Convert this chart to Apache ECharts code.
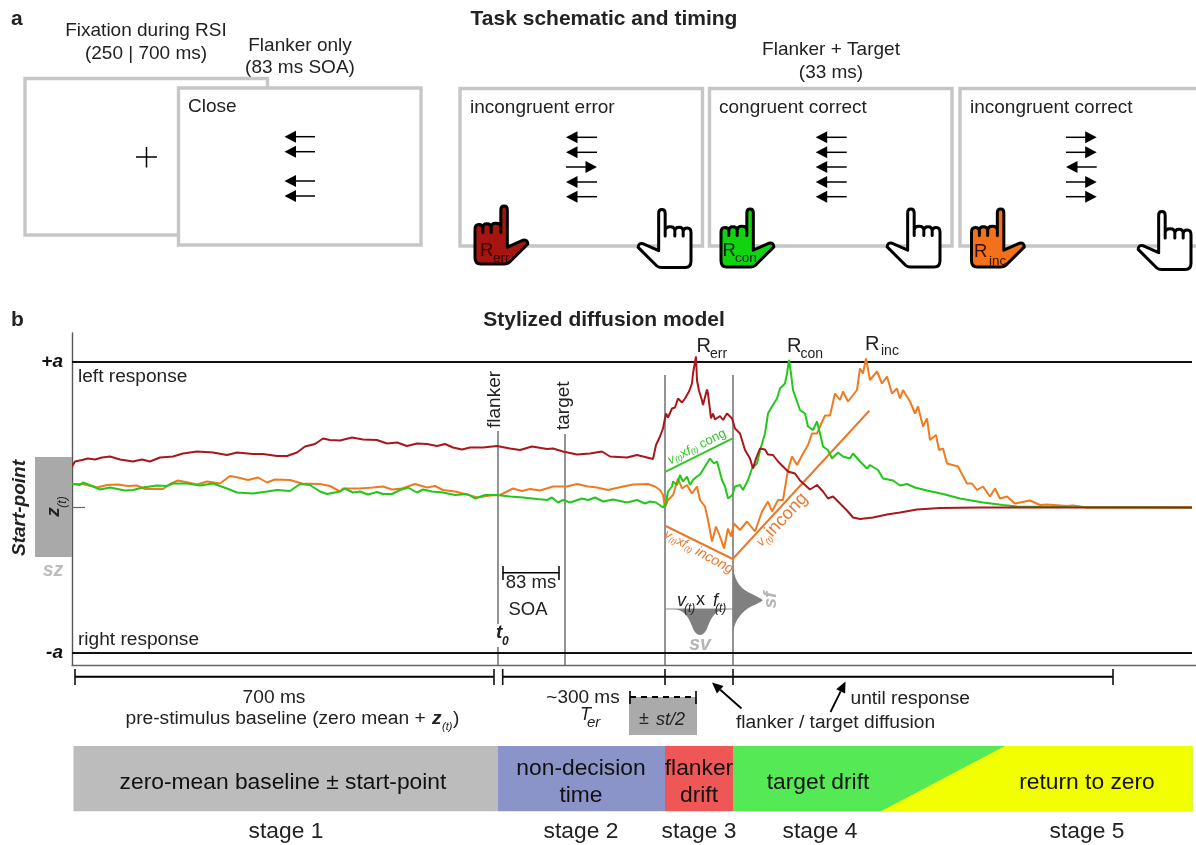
<!DOCTYPE html>
<html><head><meta charset="utf-8">
<style>html,body{margin:0;padding:0;background:#fff}#c{width:1196px;height:845px}</style>
<script src="https://cdn.jsdelivr.net/npm/echarts@6/dist/echarts.min.js"></script>
</head><body><div id="c"></div>
<script>
// ---- values (x = time position along the axis, v = evidence; a = threshold)
const thresholdA = 145.5;
const redT = [72,75,82,88,95,102,110,120,133,142,150,160,173,183,197,213,227,237,253,263,277,287,297,305,315,323,330,340,352,363,377,387,397,407,417,427,437,445,453,462,470,483,497,510,520,532,547,553,563,577,590,602,610,627,637,653,656,660,663,666,668,672,675,678,682,685,689,692,693,696,697,699,702,703,707,708,711,713,715,720,723,727,732,735,740,745,750,753,756,760,765,768,773,778,783,788,795,800,805,810,817,823,828,833,840,847,853,860,873,887,900,917,940,980,1040,1100,1192];
const redV = [41,46,47.5,49,48,50,51,48,46,48,46,50,51,54,56,55,52.5,55,53.5,53.5,51.5,51.5,55,61,63.5,69,67.5,67,70,68,67.5,64,65,61.5,64,63.5,61.5,63.5,60,58,60,60,61.5,59,57.5,61,58.5,59,56,53,54,56,51,50,52.5,48.5,62.5,71,79,94,90,99,100,109,105,109,116,124,134,151,127,117,107,102.5,118,114,89,94,88,91.5,87.5,94,89,79,74,57.5,49,39,49,59,58,53,52.5,46,41,36,34,27,22.5,18,22.5,16,9,11,4,-3,-10,-11.5,-10,-7,-5,-2,-0.5,0,0,0,0];
const greenT = [72,80,83,92,100,110,125,133,143,157,167,173,187,200,213,227,237,253,267,277,290,300,310,320,327,340,345,353,360,368,377,383,392,400,408,417,423,432,443,455,467,475,485,497,510,523,537,547,552,558,563,570,582,588,595,603,613,627,637,645,650,656,663,666,668,672,673,677,680,683,687,690,693,697,700,705,710,714,717,722,725,728,732,735,740,743,748,752,757,760,765,768,772,777,780,785,787,789,791,793,797,800,805,808,813,817,820,823,828,832,838,843,850,853,860,867,870,878,883,893,900,907,909,915,927,943,960,983,1003,1017,1067,1192];
const greenV = [23.5,22.5,25,21.5,18,20,17,17.5,20,22,21.5,24,24,22,24,19,15,14,16,17.5,16.5,23.5,22.5,16,13.5,16,19,15,16,13,15.5,13.5,13.5,17.5,20,15,18,16,15,12.5,13.5,9,12.5,12.5,11,10,8.5,7.5,10,5,7.5,5,9,7.5,10,6,8,5,7.5,4,6,5,0,4,16,21,26,22.5,32.5,26,31,22.5,27.5,31,33,41,49,44,46,27.5,21,9,12,21,22.5,17.5,27.5,39,44,57,74,94,101,109,119,124,134,147.5,134,117.5,106,97.5,94,81,77.5,86,74,61,57.5,49,55,51,49,54,46,39,42.5,37.5,29,27,22,23.5,25.5,20,17,13.5,9,5,2.5,1,0.5,0];
const orangeT = [72,83,97,107,118,128,137,145,163,170,178,188,197,207,220,230,238,248,258,267,275,290,302,320,330,340,343,360,373,383,392,402,415,427,435,443,455,467,477,490,500,513,522,530,540,553,567,577,588,597,608,623,633,648,655,660,663,665,668,673,678,682,687,692,697,700,705,708,712,716,720,724,728,731,734,740,747,755,762,768,772,778,783,788,792,797,803,808,812,817,820,825,830,835,840,843,848,857,860,863,866,870,877,882,887,892,897,900,903,910,915,918,923,927,930,936,939,943,947,958,967,972,977,983,990,995,1000,1007,1015,1030,1040,1047,1067,1073,1087,1192];
const orangeV = [23.5,23.5,20,22.5,23,21.5,22,18.5,18.5,23.5,27,25,23,26,24,31.5,30,27.5,30,25,28,27.5,24,23.5,21.5,16,19,19,20,21,18,19,23.5,20,21.5,17.5,16,13,10,12,12.5,19,16.5,18.5,17,21,21,23.5,21,20,17.5,21,23,23.5,21,17.5,12.5,0,7.5,12.5,29,19,22.5,14,21,7.5,1,-12.5,-34,-19,-29,-41,-21,-29,-16,-22.5,-14,-24,-4,6,-4,7.5,7.5,37.5,51,42.5,54,62.5,74,74,81,92,92,114,107.5,116,106,117.5,139,134,149,127.5,136,124,131,114,119,109,117.5,106,94,101,81,89,67.5,72.5,57.5,59,44,41,24,24,17.5,21,11,19,9,11,4,7,2.5,3,1.5,2,0,0];
const eventT = [498,565,665,733];
const eventTop = [76.5,73.5,132.5,132.5];
const driftCongT = [665.7,732.7];      const driftCongV = [35.8,69.2];
const driftIncongT = [665.7,732.7];    const driftIncongV = [-18.5,-51.5];
const targetIncongT = [732.7,869.3];   const targetIncongV = [-51.5,96.8];
const stageNames = ['stage 1','stage 2','stage 3','stage 4','stage 5'];
const taskLabels = ['incongruent error','congruent correct','incongruent correct'];
const yLabels = {'145.5':'+a','-145.5':'-a'};

const FONT='"Liberation Sans",Arial,sans-serif';
const pair=(t,v)=>t.map((x,i)=>[x,v[i]]);
const line=(name,t,v,color,w)=>({name,type:'line',data:pair(t,v),showSymbol:false,symbol:'none',smooth:false,silent:true,lineStyle:{color,width:w},animation:false});

// custom vector outline shape for hands and distributions
echarts.graphic.registerShape('outline',echarts.graphic.extendShape({
  shape:{d:''},
  buildPath(ctx,shape){
    const tk=shape.d.match(/[MLQCZ]|-?[\d.]+/g);let i=0;
    const n=()=>parseFloat(tk[i++]);
    while(i<tk.length){const c=tk[i++];
      if(c==='M')ctx.moveTo(n(),n());
      else if(c==='L')ctx.lineTo(n(),n());
      else if(c==='Q')ctx.quadraticCurveTo(n(),n(),n(),n());
      else if(c==='C')ctx.bezierCurveTo(n(),n(),n(),n(),n(),n());
      else if(c==='Z')ctx.closePath();}
  }}));

// graphics helpers
const G=[];
function T(text,x,b,o={}){const s=o.s||19;
  G.push({type:'text',x,y:b,rotation:o.rot||0,silent:true,style:{text,x:0,y:-0.36*s,fontSize:s,fontFamily:FONT,fontWeight:o.w||'normal',fontStyle:o.i?'italic':'normal',fill:o.c||'#222',textAlign:o.a||'left',textVerticalAlign:'middle',rich:o.rich}});}
function L(x1,y1,x2,y2,c='#000',w=2,dash){G.push({type:'line',silent:true,shape:{x1,y1,x2,y2},style:{stroke:c,lineWidth:w,lineDash:dash}});}
function R(x,y,w,h,fill,stroke,lw){G.push({type:'rect',silent:true,shape:{x,y,width:w,height:h},style:{fill:fill||'none',stroke:stroke||'none',lineWidth:lw||0}});}
function P(points,fill){G.push({type:'polygon',silent:true,shape:{points},style:{fill}});}
function A(x1,y1,x2,y2){ // arrow with filled head
  const dx=x2-x1,dy=y2-y1,l=Math.hypot(dx,dy),ux=dx/l,uy=dy/l,hl=11,hw=5;
  L(x1,y1,x2-ux*hl,y2-uy*hl,'#000',1.8);
  P([[x2,y2],[x2-ux*hl-uy*hw,y2-uy*hl+ux*hw],[x2-ux*hl+uy*hw,y2-uy*hl-ux*hw]],'#000');}
function stim(xL,xR,ys,dirs){ys.forEach((y,i)=>{ if(dirs[i]<0){L(xL+10,y,xR,y,'#000',1.5);P([[xL,y],[xL+11.5,y-6],[xL+11.5,y+6]],'#000');}
  else{L(xL,y,xR-10,y,'#000',1.5);P([[xR,y],[xR-11.5,y-6],[xR-11.5,y+6]],'#000');}});}
const handPath='M4.5 160 L4.5 74 Q4.5 60 16 60 Q28 60 28 72 L28 84 L28 70 Q28 58 40 58 Q53 58 53 70 L53 84 L53 68 Q53 56 67 56 Q82 56 82 68 L82 84 L82 16 Q82 4.5 92 4.5 Q101.5 4.5 101.5 16 L101.5 128 L149 107 Q162 104 163 118 L107 174 Q102 178.5 92 178.5 L22 178.5 Q4.5 178.5 4.5 160 Z';
function hand(x,y,fill,mirror){G.push({type:'outline',silent:true,x,y,scaleX:mirror?-1/3:1/3,scaleY:1/3,shape:{d:handPath},style:{fill,stroke:'#000',lineWidth:9,lineJoin:'round'}});}

// ---- panel a
T('a',11,27,{w:'bold',s:21});
T('Task schematic and timing',604,27,{w:'bold',a:'center',s:21});
T('Fixation during RSI',146,38,{a:'center'});T('(250 | 700 ms)',146,60.5,{a:'center'});
T('Flanker only',300,53,{a:'center'});T('(83 ms SOA)',300,75,{a:'center'});
T('Flanker + Target',831,57,{a:'center'});T('(33 ms)',831,80,{a:'center'});
const gb='#c6c6c6';
R(25,78.5,242.5,156.5,'#fff',gb,3.4);
L(136,157,157,157,'#000',1.5);L(146.5,147,146.5,167.5,'#000',1.5);
R(178.5,88,242.5,157,'#fff',gb,3.4);
T('Close',188,114);
stim(284.5,315,[136.7,151.7,181,196],[-1,-1,-1,-1]);
R(460,88.5,242.5,157.5,'#fff',gb,3.4);
R(709.5,88.5,242.5,157.5,'#fff',gb,3.4);
G.push({type:'polyline',silent:true,shape:{points:[[1196,88.5],[960,88.5],[960,246],[1196,246]]},style:{stroke:gb,lineWidth:3.4,fill:'none'}});
T(taskLabels[0],470,114.5);T(taskLabels[1],719,114.5);T(taskLabels[2],970,114.5);
const ay=[137.3,152.3,167,182,196.7];
stim(566,597,ay,[-1,-1,1,-1,-1]);
stim(815.7,846.7,ay,[-1,-1,-1,-1,-1]);
stim(1066,1096.7,ay,[1,1,-1,1,1]);
hand(473.5,204.5,'#a61510');hand(692.5,208,'#fff',true);
hand(719.5,207.5,'#11d40e');hand(941.5,207.5,'#fff',true);
hand(970,207.5,'#f4701a');hand(1192.5,210,'#fff',true);
T('R',480,258,{s:18.5,c:'#300'});T('err',493,263,{s:13.5,c:'#300'});
T('R',722.5,258,{s:18.5,c:'#022'});T('con',735,263,{s:13.5,c:'#022'});
T('R',974,259,{s:18.5,c:'#310'});T('inc',989,266,{s:13.5,c:'#310'});

// ---- panel b annotations
T('b',11,327.5,{w:'bold',s:21});
T('Stylized diffusion model',604,327.5,{w:'bold',a:'center',s:21});
T('left response',78,383.5,{s:19.1});T('right response',78,647,{s:19.1});
R(35,457,37,100,'#a9a9a9');
T('Start-point',27,508,{w:'bold',i:1,a:'center',rot:Math.PI/2,s:19});
T('z',61,512,{w:'bold',i:1,rot:Math.PI/2,s:19,a:'center'});
T('(t)',67,502,{i:1,rot:Math.PI/2,s:12,a:'center'});
T('sz',53,578,{w:'bold',i:1,a:'center',c:'#bdbdbd',s:19.5});
T('flanker',502,428,{rot:Math.PI/2,s:19});
T('target',571,430,{rot:Math.PI/2,s:19});
T('R',696.5,354,{s:20});T('err',710,359,{s:14});
T('R',787,354,{s:20});T('con',800.5,359,{s:14});
T('R',865,352,{s:20});T('inc',881,356,{s:14});
// drift labels
function rich(col,big){return {
  a:{fontSize:13,fontStyle:'italic',fill:col,fontFamily:FONT},
  b:{fontSize:8,fontStyle:'italic',verticalAlign:'bottom',fill:col,fontFamily:FONT},
  c:{fontSize:big||13,fill:col,fontFamily:FONT},
  d:{fontSize:14,fontStyle:'italic',fill:col,fontFamily:FONT}};}
T('{a|v}{b|(t)}{c|x}{a|f}{b|(t)}{c| cong}',699.6,452,{rot:0.47,a:'center',rich:rich('#35c42a'),c:'#35c42a',s:16});
T('{a|v}{b|(t)}{c|x}{a|f}{b|(t)}{d| incong}',696,557,{rot:-0.5,a:'center',rich:rich('#e9782f'),c:'#e9782f',s:16});
T('{a|v}{b|(t)}{c|incong}',786,524,{rot:0.82,a:'center',rich:rich('#e9782f',18),c:'#e9782f',s:16});
// distributions
L(665,609,733,609,'#888',1);
G.push({type:'outline',silent:true,shape:{d:'M674 609 C684 610 688 616 692 626 C696 638 704 638 708 626 C712 616 716 610 726 609 Z'},style:{fill:'#808080'}});
G.push({type:'outline',silent:true,shape:{d:'M733 567 C735 583 742 590 752 594 C760 598 763 600 763 600 C763 600 760 603 752 606 C742 611 735 620 733 632 Z'},style:{fill:'#808080'}});
T('v',677,607,{i:1,s:18});T('(t)',684,613,{i:1,s:12});T('x',696,607,{s:18});T('f',713,607,{i:1,s:18});T('(t)',715,613,{i:1,s:12});
T('sv',700,652,{w:'bold',i:1,a:'center',c:'#b5b5b5',s:19.5});
T('sf',778,600,{w:'bold',i:1,a:'center',c:'#b5b5b5',s:19,rot:Math.PI/2});
T('83 ms',531,590,{a:'center',s:18.5});T('SOA',528,617,{a:'center',s:18.5});
L(502.7,572.7,559.3,572.7,'#000',1.5);L(503,566,503,580,'#000',1.5);L(559,566,559,580,'#000',1.5);
R(493,624,16,23,'#fff');
T('t',496,640,{w:'bold',i:1,s:19});T('0',502,646,{w:'bold',i:1,s:12});
// ---- timeline
L(75,676.7,494,676.7);L(502.7,676.7,1113,676.7);
[75,494,502.7,665,733,1113].forEach(x=>L(x,669,x,685,'#111',1.6));
T('700 ms',274,705,{a:'center',s:19.2});
T('pre-stimulus baseline (zero mean + ',125.5,726,{s:19.2});
T('z',432,726,{w:'bold',i:1,s:19});T('(t)',442,731,{i:1,s:11});T(')',453,726,{s:19.2});
T('~300 ms',583,705,{a:'center',s:19});
T('T',580,721,{i:1,s:18});T('er',587,728,{i:1,s:15});
R(629,697,68,38,'#aaaaaa');
L(630,697,696,697,'#000',2,[6,5]);L(630,691,630,704,'#000',1.6);L(696,691,696,704,'#000',1.6);
T('± ',639,726,{s:18});T('st/2',656,726,{i:1,s:18});
A(741.5,708.5,712,682.5);A(830.5,712,845.5,681.5);
T('flanker / target diffusion',736,729.5,{s:19.2});
T('until response',850.5,705.5,{s:19.2});
// ---- stage bands
const by=746,bh=65.3;
R(73.5,by,424.5,bh,'#bcbcbc');R(498,by,167,bh,'#8a94c8');R(665,by,68,bh,'#ef5656');R(733,by,459.5,bh,'#54e955');
P([[1005,by],[1192.5,by],[1192.5,by+bh],[881,by+bh]],'#f2ff00');
T('zero-mean baseline ± start-point',283,791,{a:'center',s:22.8,c:'#111'});
T('non-decision',581,777,{a:'center',s:22.8,c:'#111'});T('time',581,803.5,{a:'center',s:22.8,c:'#111'});
T('flanker',699,777,{a:'center',s:22.8,c:'#111'});T('drift',699,803.5,{a:'center',s:22.8,c:'#111'});
T('target drift',818,791,{a:'center',s:22.8,c:'#111'});
T('return to zero',1087,791,{a:'center',s:22.8,c:'#111'});
[286,581,699,820,1087].forEach((x,i)=>T(stageNames[i],x,840,{a:'center',s:22.8}));

const series=[];
eventT.forEach((x,i)=>series.push(line('event'+i,[x,x],[eventTop[i],-157.8],'#666',1.4)));
series.push(line('+a',[72,1192],[thresholdA,thresholdA],'#111',2.2));
series.push(line('-a',[72,1192],[-thresholdA,-thresholdA],'#111',2.2));
series.push(line('v x f cong',driftCongT,driftCongV,'#35c42a',2));
series.push(line('v x f incong',driftIncongT,driftIncongV,'#e9782f',2));
series.push(line('v incong',targetIncongT,targetIncongV,'#e9782f',2));
series.push(line('Rinc',orangeT,orangeV,'#f07a20',2));
series.push(line('Rcon',greenT,greenV,'#22c71a',2));
series.push(line('Rerr',redT,redV,'#a8171c',2));

const chart=echarts.init(document.getElementById('c'),null,{renderer:'canvas'});
chart.setOption({
  animation:false,backgroundColor:'#fff',
  grid:{left:72,top:333,width:1124,height:332.3,containLabel:false},
  xAxis:{type:'value',min:72,max:1196,axisLine:{show:true,onZero:false,lineStyle:{color:'#666',width:1.4}},axisTick:{show:false},axisLabel:{show:false},splitLine:{show:false}},
  yAxis:{type:'value',min:-157.8,max:174.5,
    axisLine:{show:true,onZero:false,lineStyle:{color:'#555',width:1.4}},
    axisTick:{show:true,inside:true,length:13,customValues:[0],lineStyle:{color:'#666',width:1.2}},
    axisLabel:{show:true,customValues:[thresholdA,-thresholdA],margin:9,fontFamily:FONT,fontWeight:'bold',fontStyle:'italic',fontSize:19,color:'#111',formatter:v=>yLabels[String(v)]||''},
    splitLine:{show:false}},
  graphic:{elements:G.map(e=>Object.assign(e,{z:50}))},
  series
});
</script></body></html>
